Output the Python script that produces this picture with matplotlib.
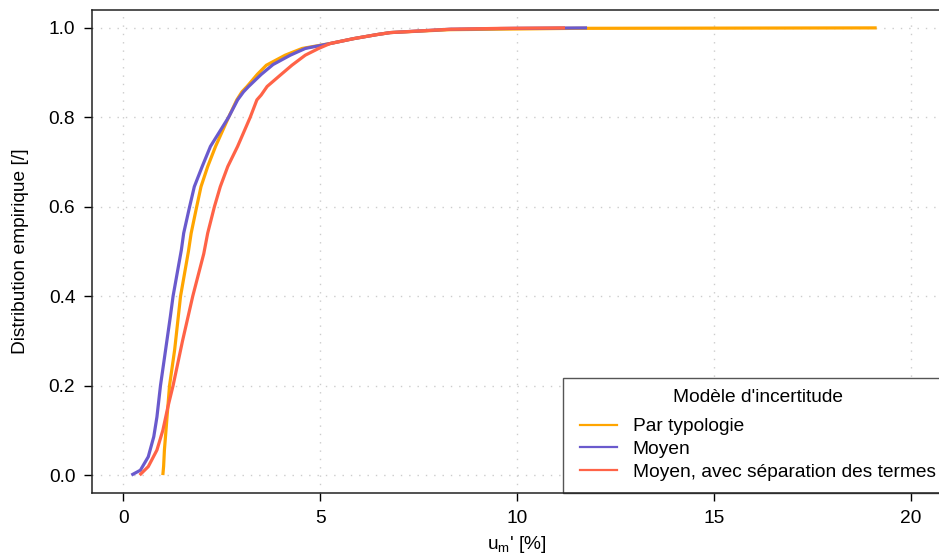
import matplotlib
matplotlib.use("Agg")
import matplotlib.pyplot as plt
from matplotlib.lines import Line2D
from matplotlib.patches import Rectangle

plt.rcParams['font.family'] = ['Liberation Sans', 'DejaVu Sans']
plt.rcParams['mathtext.default'] = 'regular'

x_typologie = [1.00, 1.02, 1.04, 1.08, 1.17, 1.30, 1.45, 1.65, 1.72, 1.86, 1.97,
               2.14, 2.34, 2.67, 2.88, 3.01, 3.14, 3.40, 3.63, 4.11, 4.54, 5.25,
               5.85, 6.44, 6.78, 8.30, 11.50, 19.14]
y_typologie = [0.000, 0.020, 0.056, 0.100, 0.200, 0.280, 0.400, 0.500, 0.541, 0.600, 0.645,
               0.690, 0.735, 0.800, 0.839, 0.857, 0.869, 0.896, 0.9165, 0.939, 0.954, 0.965,
               0.976, 0.985, 0.9895, 0.996, 0.999, 1.000]

x_moyen = [0.20, 0.43, 0.63, 0.77, 0.85, 0.94, 1.07, 1.19, 1.26, 1.38, 1.47,
           1.53, 1.68, 1.80, 2.00, 2.21, 2.67, 2.90, 3.05, 3.18, 3.50, 3.80,
           4.24, 4.62, 5.25, 5.85, 6.44, 6.78, 8.30, 10.00, 11.78]
y_moyen = [0.000, 0.011, 0.041, 0.086, 0.130, 0.200, 0.280, 0.354, 0.400, 0.459, 0.503,
           0.541, 0.600, 0.645, 0.690, 0.735, 0.800, 0.839, 0.857, 0.869, 0.896, 0.918,
           0.939, 0.954, 0.965, 0.976, 0.985, 0.9895, 0.997, 0.999, 1.000]

x_separation = [0.41, 0.63, 0.85, 1.00, 1.13, 1.26, 1.50, 1.76, 2.04, 2.14, 2.31,
                2.46, 2.65, 2.90, 3.22, 3.39, 3.50, 3.65, 3.98, 4.28, 4.62, 4.96,
                5.25, 5.85, 6.44, 6.78, 8.30, 9.60, 11.22]
y_separation = [0.000, 0.019, 0.056, 0.100, 0.153, 0.200, 0.300, 0.400, 0.495, 0.541, 0.600,
                0.645, 0.690, 0.735, 0.800, 0.839, 0.850, 0.869, 0.894, 0.9165, 0.939, 0.954,
                0.965, 0.976, 0.985, 0.9895, 0.997, 0.999, 1.000]

series_names = ["Par typologie", "Moyen", "Moyen, avec séparation des termes"]
series_x = [x_typologie, x_moyen, x_separation]
series_y = [y_typologie, y_moyen, y_separation]
colors = ["#FFA500", "#6A5ACD", "#FF6347"]

xticks = [0, 5, 10, 15, 20]
yticks = [0.0, 0.2, 0.4, 0.6, 0.8, 1.0]

FS = 13.8
W, H = 939, 556
fig = plt.figure(figsize=(W / 100, H / 100), dpi=100)
ax = fig.add_axes([92 / W, (H - 493) / H, (942 - 92) / W, (493 - 10) / H])

for xs, ys, c in zip(series_x, series_y, colors):
    ax.plot(xs, ys, color=c, lw=2.3, solid_capstyle='butt', solid_joinstyle='round', zorder=3)

ax.set_xlim(-0.8, 20.8)
ax.set_ylim(-0.04, 1.04)
ax.set_xticks(xticks)
ax.set_xticklabels([str(t) for t in xticks])
ax.set_yticks(yticks)
ax.set_yticklabels([f"{t:.1f}" for t in yticks])
ax.tick_params(axis='both', direction='out', length=6, width=1.0, labelsize=FS,
               pad=6, colors='black')
ax.grid(True, color='#cccccc', linestyle=(0, (1, 5)), linewidth=1.0, zorder=0)

for s in ['left', 'bottom', 'top']:
    ax.spines[s].set_color('#222222')
    ax.spines[s].set_linewidth(1.1)
    ax.spines[s].set_zorder(6)
ax.spines['right'].set_visible(False)

ax.set_xlabel("u$_{m}$' [%]", fontsize=FS, labelpad=5)
ax.set_ylabel("Distribution empirique [/]", fontsize=FS, labelpad=14)

# legend frame (extends past the right edge of the figure, as in the reference)
frame = Rectangle((563 / W, (H - 493) / H), (960 - 563) / W, (493 - 378) / H,
                  transform=fig.transFigure, facecolor='white', edgecolor='#555555',
                  linewidth=1.0, clip_on=False, zorder=4)
ax.add_patch(frame)

handles = [Line2D([0], [0], color=c, lw=1.6) for c in colors]
leg = ax.legend(handles, series_names, title="Modèle d'incertitude",
                loc='upper left', bbox_to_anchor=(580 / W, (H - 388.5) / H),
                bbox_transform=fig.transFigure, fontsize=FS, title_fontsize=FS,
                frameon=False, borderaxespad=0, borderpad=0, handlelength=1.95,
                handletextpad=0.8, labelspacing=0.28)
leg._legend_box.sep = 9.0
leg.set_zorder(5)

fig.savefig("out.png", dpi=100)
